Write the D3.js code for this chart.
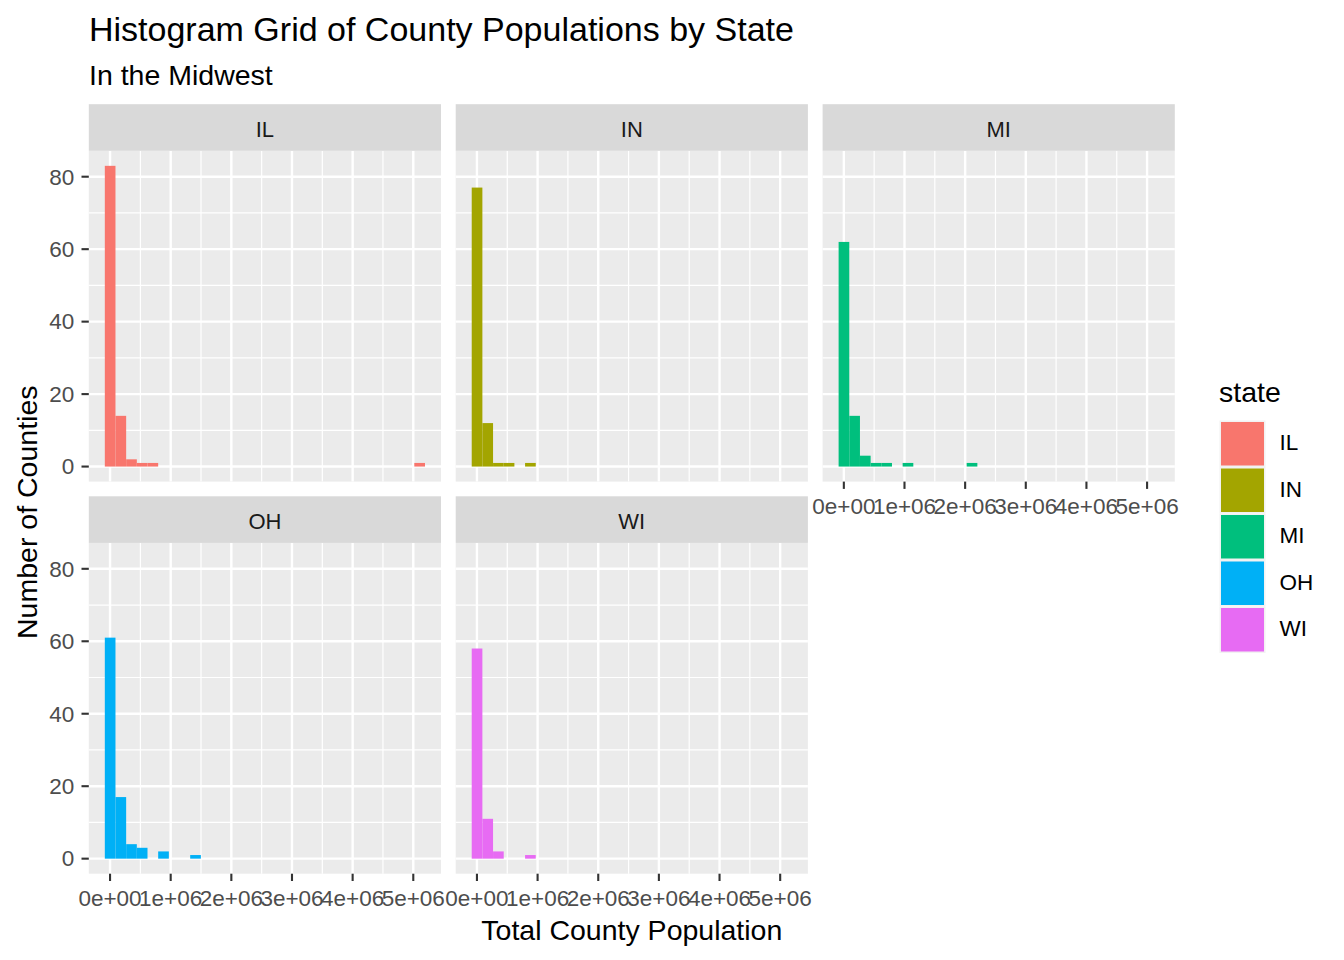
<!DOCTYPE html>
<html>
<head>
<meta charset="utf-8">
<script src="https://cdn.jsdelivr.net/npm/d3@7"></script>
<style>
  html, body { margin: 0; padding: 0; background: #fff; }
  svg text { font-family: "Liberation Sans", Arial, sans-serif; }
</style>
</head>
<body>
<svg id="chart" width="1344" height="960"></svg>
<script>
// ---- Data ----
const states = ["IL", "IN", "MI", "OH", "WI"];
const stateColors = ["#F8766D", "#A3A500", "#00BF7D", "#00B0F6", "#E76BF3"];
// histogram: 30 bins spanning the county population range (min 1701, max 5105067)
const popMin = 1701;
const popMax = 5105067;
const nBins = 30;
const countsIL = [83,14,2,1,1,0,0,0,0,0,0,0,0,0,0,0,0,0,0,0,0,0,0,0,0,0,0,0,0,1];
const countsIN = [77,12,1,1,0,1,0,0,0,0,0,0,0,0,0,0,0,0,0,0,0,0,0,0,0,0,0,0,0,0];
const countsMI = [62,14,3,1,1,0,1,0,0,0,0,0,1,0,0,0,0,0,0,0,0,0,0,0,0,0,0,0,0,0];
const countsOH = [61,17,4,3,0,2,0,0,1,0,0,0,0,0,0,0,0,0,0,0,0,0,0,0,0,0,0,0,0,0];
const countsWI = [58,11,2,0,0,1,0,0,0,0,0,0,0,0,0,0,0,0,0,0,0,0,0,0,0,0,0,0,0,0];
const xTicks = [0, 1e6, 2e6, 3e6, 4e6, 5e6];
const xTickLabels = ["0e+00", "1e+06", "2e+06", "3e+06", "4e+06", "5e+06"];
const xMinor = [0.5e6, 1.5e6, 2.5e6, 3.5e6, 4.5e6];
const yTicks = [0, 20, 40, 60, 80];
const yMinor = [10, 30, 50, 70];
const titleText = "Histogram Grid of County Populations by State";
const subtitleText = "In the Midwest";
const xTitle = "Total County Population";
const yTitle = "Number of Counties";
const legendTitle = "state";

const allCounts = [countsIL, countsIN, countsMI, countsOH, countsWI];

// ---- Layout ----
const svg = d3.select("#chart");
const left0 = 88.8, panelW = 352.2, gap = 14.7;
const stripH = 46.6, panelH = 330.8;
const top0 = 104.2;

const binW = (popMax - popMin) / (nBins - 1);
const lo = popMin - binW / 2, hi = popMax + binW / 2;
const R = hi - lo;
const x = d3.scaleLinear().domain([lo - 0.05 * R, hi + 0.05 * R]).range([0, panelW]);
const maxC = d3.max(allCounts, c => d3.max(c));
const y = d3.scaleLinear().domain([0 - 0.05 * maxC, maxC + 0.05 * maxC]).range([panelH, 0]);

// Titles
svg.append("text").attr("x", 89).attr("y", 41).attr("font-size", 34).attr("fill", "#000").text(titleText);
svg.append("text").attr("x", 89).attr("y", 85).attr("font-size", 28.5).attr("fill", "#000").text(subtitleText);

states.forEach((s, i) => {
  const col = i % 3, row = Math.floor(i / 3);
  const px = left0 + col * (panelW + gap);
  const stripY = top0 + row * (stripH + panelH + gap);
  const py = stripY + stripH;
  const g = svg.append("g").attr("transform", `translate(${px},${py})`);

  // strip
  svg.append("rect").attr("x", px).attr("y", stripY).attr("width", panelW).attr("height", stripH).attr("fill", "#D9D9D9");
  svg.append("text").attr("x", px + panelW / 2).attr("y", stripY + stripH / 2 + 9.5)
    .attr("text-anchor", "middle").attr("font-size", 22).attr("fill", "#1A1A1A").text(s);

  // panel bg
  g.append("rect").attr("width", panelW).attr("height", panelH).attr("fill", "#EBEBEB");
  // minor grid
  g.selectAll(".ymin").data(yMinor).enter().append("line")
    .attr("x1", 0).attr("x2", panelW).attr("y1", d => y(d)).attr("y2", d => y(d))
    .attr("stroke", "#fff").attr("stroke-width", 1.2);
  g.selectAll(".xmin").data(xMinor).enter().append("line")
    .attr("y1", 0).attr("y2", panelH).attr("x1", d => x(d)).attr("x2", d => x(d))
    .attr("stroke", "#fff").attr("stroke-width", 1.2);
  // major grid
  g.selectAll(".ymaj").data(yTicks).enter().append("line")
    .attr("x1", 0).attr("x2", panelW).attr("y1", d => y(d)).attr("y2", d => y(d))
    .attr("stroke", "#fff").attr("stroke-width", 2.4);
  g.selectAll(".xmaj").data(xTicks).enter().append("line")
    .attr("y1", 0).attr("y2", panelH).attr("x1", d => x(d)).attr("x2", d => x(d))
    .attr("stroke", "#fff").attr("stroke-width", 2.4);

  // bars
  const counts = allCounts[i];
  const bins = counts.map((c, k) => ({ x0: lo + k * binW, x1: lo + (k + 1) * binW, c }))
    .filter(b => b.c > 0);
  g.selectAll(".bar").data(bins).enter().append("rect")
    .attr("x", d => x(d.x0)).attr("width", d => x(d.x1) - x(d.x0))
    .attr("y", d => y(d.c)).attr("height", d => y(0) - y(d.c))
    .attr("fill", stateColors[i]);

  // y axis on first column
  if (col === 0) {
    yTicks.forEach(t => {
      svg.append("line").attr("x1", px - 7.3).attr("x2", px).attr("y1", py + y(t)).attr("y2", py + y(t))
        .attr("stroke", "#333").attr("stroke-width", 2.1);
      svg.append("text").attr("x", px - 14.5).attr("y", py + y(t) + 7.8).attr("text-anchor", "end")
        .attr("font-size", 22.5).attr("fill", "#4D4D4D").text(t);
    });
  }
  // x axis on bottom panels and on panels with no panel below
  const hasBelow = (i + 3) < states.length;
  if (!hasBelow) {
    xTicks.forEach((t, k) => {
      svg.append("line").attr("y1", py + panelH).attr("y2", py + panelH + 7.3).attr("x1", px + x(t)).attr("x2", px + x(t))
        .attr("stroke", "#333").attr("stroke-width", 2.1);
      svg.append("text").attr("x", px + x(t)).attr("y", py + panelH + 32.5).attr("text-anchor", "middle")
        .attr("font-size", 22.5).attr("fill", "#4D4D4D").text(xTickLabels[k]);
    });
  }
});

// axis titles
const panelsRight = left0 + 3 * panelW + 2 * gap;
const bottom = top0 + 2 * (stripH + panelH) + gap;
svg.append("text").attr("x", (left0 + panelsRight) / 2).attr("y", 940).attr("text-anchor", "middle")
  .attr("font-size", 28.5).attr("fill", "#000").text(xTitle);
svg.append("text").attr("transform", `translate(37,${(top0 + stripH + bottom) / 2}) rotate(-90)`)
  .attr("text-anchor", "middle").attr("font-size", 28.5).attr("fill", "#000").text(yTitle);

// legend
const lg = svg.append("g").attr("transform", "translate(1219.5,420.5)");
svg.append("text").attr("x", 1219).attr("y", 402).attr("font-size", 28.5).attr("fill", "#000").text(legendTitle);
states.forEach((s, i) => {
  lg.append("rect").attr("x", 0).attr("y", i * 46.5).attr("width", 46).attr("height", 46.5).attr("fill", "#F2F2F2");
  lg.append("rect").attr("x", 1.5).attr("y", i * 46.5 + 1.5).attr("width", 43).attr("height", 43.5).attr("fill", stateColors[i]);
  lg.append("text").attr("x", 60).attr("y", i * 46.5 + 23.25 + 6.5).attr("font-size", 22.5).attr("fill", "#000").text(s);
});
</script>
</body>
</html>
